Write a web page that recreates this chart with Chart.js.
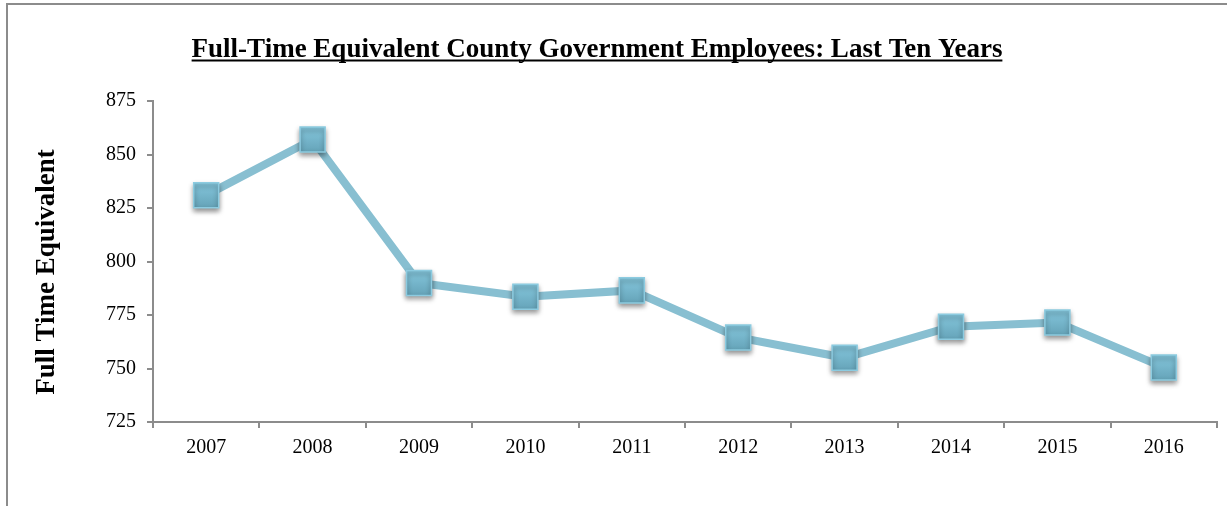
<!DOCTYPE html>
<html>
<head>
<meta charset="utf-8">
<script src="https://cdn.jsdelivr.net/npm/chart.js@4.4.0/dist/chart.umd.min.js"></script>
<style>
  html, body { margin: 0; padding: 0; background: #fff; overflow: hidden; }
  #wrap { position: relative; width: 1227px; height: 506px; }
  #frame { position: absolute; left: 6px; top: 3px; width: 1240px; height: 520px;
           border-left: 2px solid #8c8c8c; border-top: 2px solid #8c8c8c; box-sizing: border-box; }
  canvas { position: absolute; left: 0; top: 0; }
</style>
</head>
<body>
<div id="wrap">
  <div id="frame"></div>
  <canvas id="c" width="1227" height="506"></canvas>
</div>
<script>
const chartTitle = "Full-Time Equivalent County Government Employees: Last Ten Years";
const yAxisTitle = "Full Time Equivalent";
const years = ["2007","2008","2009","2010","2011","2012","2013","2014","2015","2016"];
const fte = [831, 857, 790, 783.5, 786.5, 764.5, 755, 769.5, 771.5, 750.5];
const yTicks = [725, 750, 775, 800, 825, 850, 875];

const FONT = "'Liberation Serif', 'Times New Roman', serif";

const textPlugin = {
  id: 'texts',
  afterDraw(chart) {
    const ctx = chart.ctx;
    ctx.save();
    ctx.fillStyle = '#000';
    ctx.strokeStyle = '#000';
    ctx.font = "bold 27px " + FONT;
    ctx.textAlign = 'center';
    ctx.textBaseline = 'alphabetic';
    const tx = 597, ty = 57;
    ctx.fillText(chartTitle, tx, ty);
    const w = ctx.measureText(chartTitle).width;
    ctx.lineWidth = 2;
    ctx.beginPath();
    ctx.moveTo(tx - w / 2, ty + 3.5);
    ctx.lineTo(tx + w / 2, ty + 3.5);
    ctx.stroke();
    ctx.translate(47, 272);
    ctx.rotate(-Math.PI / 2);
    ctx.font = "bold 27px " + FONT;
    ctx.textBaseline = 'middle';
    ctx.fillText(yAxisTitle, 0, 0);
    ctx.restore();
  }
};

const shadowPlugin = {
  id: 'pointShadow',
  beforeDatasetDraw(chart, args) {
    if (args.index === 1) {
      const ctx = chart.ctx;
      ctx.save();
      ctx.shadowColor = 'rgba(0,0,0,0.45)';
      ctx.shadowBlur = 5;
      ctx.shadowOffsetY = 3;
    }
  },
  afterDatasetDraw(chart, args) {
    if (args.index === 1) chart.ctx.restore();
  }
};

function pointGradient(context) {
  const chart = context.chart;
  const ys = chart.scales.y;
  if (!ys || context.parsed === undefined || !chart.chartArea) return '#72b2c8';
  const y = ys.getPixelForValue(context.parsed.y);
  const g = chart.ctx.createLinearGradient(0, y - 12, 0, y + 12);
  g.addColorStop(0, '#84c6dc');
  g.addColorStop(1, '#66a4b9');
  return g;
}

new Chart(document.getElementById('c'), {
  type: 'line',
  data: {
    labels: years,
    datasets: [
      {
        data: fte,
        order: 2,
        borderColor: '#88bfd1',
        borderWidth: 8,
        pointRadius: 0,
        pointHoverRadius: 0,
        tension: 0,
        fill: false
      },
      {
        data: fte,
        order: 1,
        showLine: false,
        pointStyle: 'rect',
        pointRadius: 17.7,
        pointHoverRadius: 17.7,
        pointBorderWidth: 1.5,
        pointBorderColor: '#8ccbe0',
        pointBackgroundColor: pointGradient
      }
    ]
  },
  options: {
    responsive: false,
    animation: false,
    events: [],
    layout: { autoPadding: false, padding: { left: 0, top: 101, right: 10, bottom: 0 } },
    plugins: { legend: { display: false }, tooltip: { enabled: false }, title: { display: false } },
    scales: {
      x: {
        offset: true,
        grid: { display: true, offset: true, drawOnChartArea: false, drawTicks: true, tickLength: 6, color: '#8c8c8c', lineWidth: 2 },
        border: { display: true, color: '#8c8c8c', width: 2 },
        ticks: { color: '#000', font: { family: FONT, size: 20 }, padding: 8, maxRotation: 0, autoSkip: false },
        afterFit(s) { s.height = 84; }
      },
      y: {
        min: 725, max: 875,
        afterBuildTicks(s) { s.ticks = yTicks.map(v => ({ value: v })); },
        grid: { display: true, drawOnChartArea: false, drawTicks: true, tickLength: 6, color: '#8c8c8c', lineWidth: 2 },
        border: { display: true, color: '#8c8c8c', width: 2 },
        ticks: { color: '#000', font: { family: FONT, size: 20 }, padding: 11 },
        afterFit(s) { s.width = 153; }
      }
    }
  },
  plugins: [shadowPlugin, textPlugin]
});
</script>
</body>
</html>
